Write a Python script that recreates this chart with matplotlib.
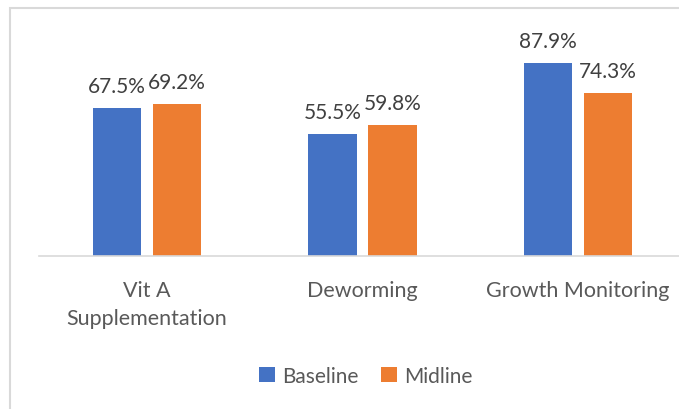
import matplotlib.pyplot as plt
import numpy as np
from matplotlib.patches import Rectangle

categories = ["Vit A\nSupplementation", "Deworming", "Growth Monitoring"]
series = ["Baseline", "Midline"]
baseline = [67.5, 55.5, 87.9]
midline = [69.2, 59.8, 74.3]
colors = ["#4472C4", "#ED7D31"]

plt.rcParams['font.family'] = ['Lato', 'DejaVu Sans']

W, H = 679, 410
fig = plt.figure(figsize=(W / 100, H / 100), dpi=100)

# light gray frame like the office chart border
fig.patches.append(Rectangle((10 / W, -0.1), 1.2, 1.1 - 9 / H, transform=fig.transFigure,
                             fill=False, edgecolor="#D9D9D9", linewidth=1.5))

# axes: x 39..686 px, baseline at y=257 px, top at 100%
ax = fig.add_axes([39 / W, (H - 257) / H, (686 - 39) / W, 219.6 / H])
x = np.arange(len(categories))
bw = 0.223
off = 0.139
for vals, c, name, sgn in [(baseline, colors[0], series[0], -1), (midline, colors[1], series[1], 1)]:
    bars = ax.bar(x + sgn * off, vals, width=bw, color=c, label=name)
    for b, v in zip(bars, vals):
        ax.text(b.get_x() + b.get_width() / 2, v + 5.5, f"{v}%", ha="center", va="bottom",
                fontsize=15, color="#404040")

ax.set_xlim(-0.5, 2.5)
ax.set_ylim(0, 100)
ax.set_yticks([])
for s in ["top", "right", "left"]:
    ax.spines[s].set_visible(False)
ax.spines["bottom"].set_color("#D9D9D9")
ax.spines["bottom"].set_linewidth(1.2)
ax.set_xticks(x)
ax.set_xticklabels(categories, fontsize=15.5, color="#595959", linespacing=1.55)
ax.tick_params(axis="x", length=0, pad=17)

leg = fig.legend(loc="center", bbox_to_anchor=(366 / W, (H - 377) / H), ncol=2, frameon=False,
                 fontsize=15, handlelength=0.75, handleheight=0.75, handletextpad=0.35,
                 columnspacing=1.1)
for t in leg.get_texts():
    t.set_color("#595959")

fig.savefig("out.png", dpi=100)
